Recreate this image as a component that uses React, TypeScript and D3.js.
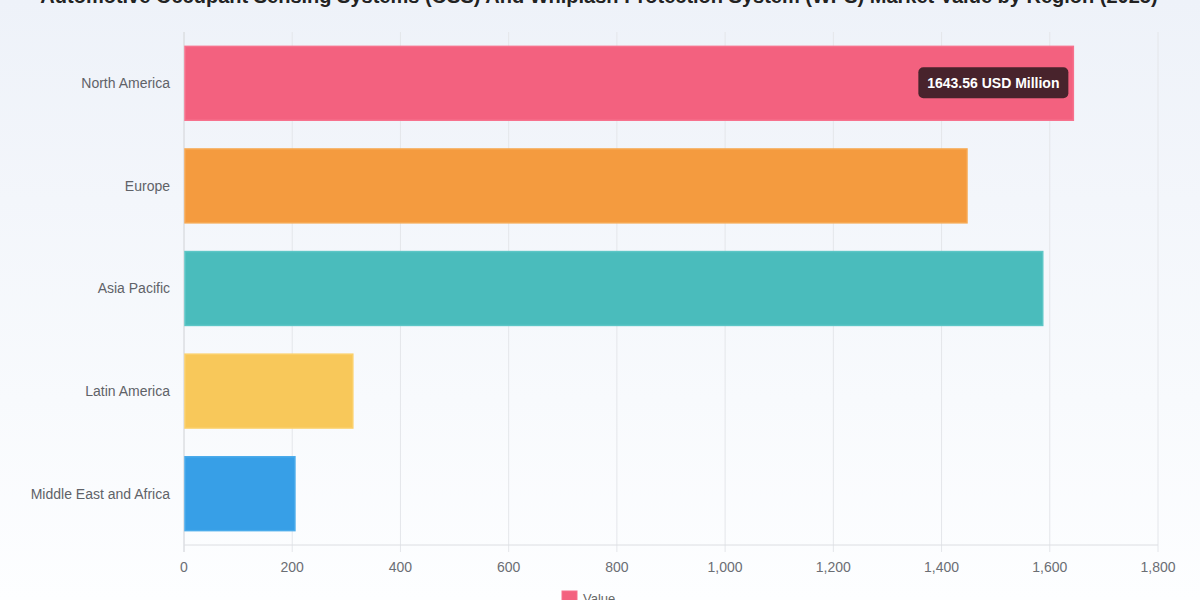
import React from "react";
import * as d3 from "d3";

const title =
  "Automotive Occupant Sensing Systems (OSS) And Whiplash Protection System (WPS) Market Value by Region (2025)";
const regions = ["North America", "Europe", "Asia Pacific", "Latin America", "Middle East and Africa"];
const values = [1643.56, 1447, 1587, 312, 205];
const fills = ["#f3617f", "#f49b3f", "#4abcbc", "#f8c85a", "#379fe7"];
const borders = ["#f7718d", "#f7a851", "#5cc6c6", "#fbd06a", "#4aabeb"];
const xTicks = [0, 200, 400, 600, 800, 1000, 1200, 1400, 1600, 1800];
const legendLabel = "Value";
const tooltipText = "1643.56 USD Million";

const W = 1200;
const H = 600;
const M = { left: 184, right: 1158, top: 32, bottom: 545 };

export default function App() {
  const x = d3.scaleLinear().domain([0, 1800]).range([M.left, M.right]);
  const y = d3.scaleBand<string>().domain(regions).range([M.top, M.bottom]).paddingInner(0.28).paddingOuter(0.14);
  const fmt = d3.format(",");
  const font = "'Liberation Sans', Arial, Helvetica, sans-serif";
  const naY = y(regions[0])! + y.bandwidth() / 2;
  const naX = x(values[0]);
  return (
    <svg
      width={W}
      height={H}
      style={{ position: "absolute", left: 0, top: 0, display: "block" }}
      fontFamily={font}
    >
      <defs>
        <linearGradient id="bg" x1="0" y1="0" x2="0" y2="1">
          <stop offset="0" stopColor="#eef2f9" />
          <stop offset="1" stopColor="#fdfeff" />
        </linearGradient>
      </defs>
      <rect x={0} y={0} width={W} height={H} fill="url(#bg)" />
      <text x={599} y={3} textAnchor="middle" fontSize={20} fontWeight="bold" fill="#222">
        {title}
      </text>
      {xTicks.map((t) => (
        <line key={"g" + t} x1={x(t)} x2={x(t)} y1={M.top} y2={M.bottom + 7} stroke="#e4e6ea" strokeWidth={1} />
      ))}
      <line x1={M.left} x2={M.left} y1={M.top} y2={M.bottom + 7} stroke="#d8dade" />
      <line x1={M.left} x2={M.right} y1={M.bottom} y2={M.bottom} stroke="#dcdee2" />
      {regions.map((r, i) => (
        <g key={r}>
          <rect
            x={x(0) + 1}
            y={y(r)!}
            width={x(values[i]) - x(0) - 1}
            height={y.bandwidth()}
            fill={fills[i]}
            stroke={borders[i]}
            strokeWidth={1.5}
          />
          <text
            x={170}
            y={y(r)! + y.bandwidth() / 2}
            dy="0.35em"
            textAnchor="end"
            fontSize={14}
            fill="#5f6268"
          >
            {r}
          </text>
        </g>
      ))}
      {xTicks.map((t) => (
        <text key={"t" + t} x={x(t)} y={572} textAnchor="middle" fontSize={14} fill="#6b6e74">
          {fmt(t)}
        </text>
      ))}
      <g>
        <rect x={naX - 155} y={naY - 16} width={150} height={31} rx={5} fill="#3a1e25" fillOpacity={0.92} />
        <text x={naX - 80} y={naY} dy="0.35em" textAnchor="middle" fontSize={14} fontWeight="bold" fill="#fff">
          {tooltipText}
        </text>
      </g>
      <rect x={562} y={591} width={15} height={12} fill={fills[0]} stroke={borders[0]} />
      <text x={583} y={603} fontSize={13} fill="#666">
        {legendLabel}
      </text>
    </svg>
  );
}
